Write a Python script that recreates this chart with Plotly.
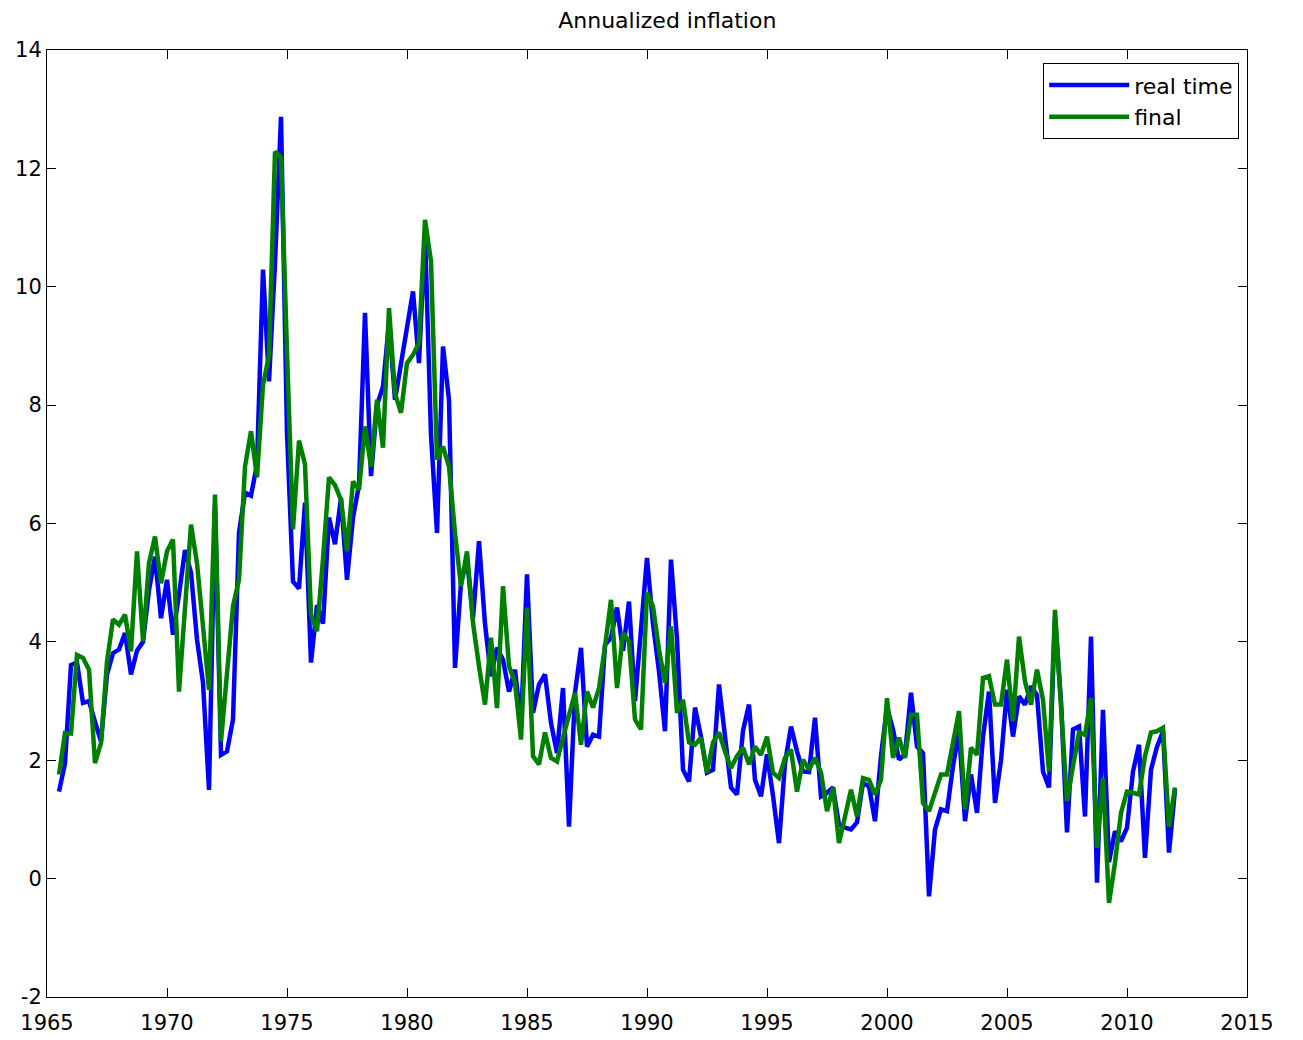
import plotly.graph_objects as go

# Quarterly observations, 1965Q3 .. 2012Q1 (decimal year of each quarter)
start_year = 1965.5
n_quarters = 187
quarters = [start_year + 0.25 * k for k in range(n_quarters)]

real_time = [
    1.47, 1.95, 3.61, 3.65, 2.97, 3.00, 2.65, 2.32, 3.45, 3.81,
    3.87, 4.15, 3.45, 3.85, 4.00, 4.88, 5.44, 4.40, 5.05, 4.12,
    4.80, 5.55, 5.17, 4.04, 3.31, 1.50, 6.30, 2.09, 2.15, 2.69,
    5.84, 6.52, 6.47, 7.00, 10.29, 8.40, 10.40, 12.87, 7.53, 5.02,
    4.90, 6.35, 3.65, 4.62, 4.31, 6.10, 5.65, 6.43, 5.05, 6.10,
    6.65, 9.56, 6.80, 8.00, 8.31, 9.40, 8.09, 8.70, 9.30, 9.92,
    8.71, 10.90, 7.50, 5.84, 8.99, 8.09, 3.56, 5.00, 5.40, 4.40,
    5.70, 4.30, 3.42, 3.90, 3.70, 3.16, 3.53, 2.60, 5.14, 2.80,
    3.28, 3.45, 2.63, 2.12, 3.22, 0.88, 3.14, 3.90, 2.23, 2.43,
    2.40, 3.95, 4.07, 4.58, 3.85, 4.68, 3.00, 4.20, 5.42, 4.30,
    3.50, 2.49, 5.39, 4.04, 1.84, 1.64, 2.89, 2.40, 1.79, 1.84,
    3.28, 2.40, 1.54, 1.42, 2.50, 2.94, 1.67, 1.39, 2.10, 1.40,
    0.60, 1.95, 2.57, 2.15, 1.81, 1.80, 2.72, 1.39, 1.45, 1.54,
    0.91, 0.86, 0.83, 0.95, 1.62, 1.56, 0.97, 2.07, 2.90, 2.52,
    2.01, 2.10, 3.14, 2.23, 2.12, -0.30, 0.83, 1.17, 1.14, 1.90,
    2.50, 0.97, 1.76, 1.11, 2.40, 3.16, 1.28, 2.00, 3.19, 2.40,
    3.08, 2.94, 3.25, 3.10, 1.81, 1.54, 4.40, 3.00, 0.78, 2.52,
    2.57, 1.05, 4.09, -0.07, 2.85, 0.28, 0.80, 0.63, 0.86, 1.81,
    2.26, 0.35, 1.84, 2.23, 2.49, 0.44, 1.50,
]

final = [
    1.76, 2.46, 2.45, 3.78, 3.73, 3.53, 1.95, 2.29, 3.67, 4.38,
    4.29, 4.46, 3.84, 5.53, 4.01, 5.33, 5.78, 4.99, 5.53, 5.73,
    3.16, 4.70, 5.98, 5.33, 4.26, 3.19, 6.49, 2.32, 3.47, 4.60,
    5.05, 6.96, 7.56, 6.78, 8.34, 8.84, 12.28, 12.19, 8.90, 5.90,
    7.40, 7.00, 4.46, 4.18, 5.40, 6.78, 6.65, 6.40, 5.53, 6.71,
    6.57, 7.64, 6.96, 8.09, 7.28, 9.64, 8.20, 7.87, 8.71, 8.85,
    9.05, 11.13, 10.43, 7.08, 7.30, 6.96, 5.84, 4.94, 5.53, 4.32,
    3.59, 2.94, 4.07, 2.88, 4.94, 3.59, 3.31, 2.35, 4.58, 2.07,
    1.93, 2.47, 2.04, 1.98, 2.38, 2.74, 3.14, 2.26, 3.16, 2.89,
    3.22, 3.92, 4.71, 3.22, 4.15, 4.01, 2.69, 2.52, 4.83, 4.60,
    3.87, 3.31, 4.26, 2.80, 3.02, 2.30, 2.26, 2.38, 1.79, 2.30,
    2.47, 2.15, 1.87, 2.07, 2.21, 1.93, 2.23, 2.09, 2.40, 1.79,
    1.70, 2.04, 2.18, 1.47, 2.01, 1.84, 2.04, 1.79, 1.14, 1.54,
    0.60, 1.05, 1.50, 1.05, 1.70, 1.67, 1.42, 1.67, 3.05, 2.04,
    2.38, 2.04, 2.77, 2.77, 1.28, 1.14, 1.45, 1.76, 1.76, 2.35,
    2.83, 1.17, 2.21, 2.09, 3.39, 3.42, 2.94, 2.94, 3.70, 2.66,
    4.09, 3.33, 2.94, 3.53, 3.02, 1.81, 4.54, 2.91, 1.31, 1.90,
    2.47, 2.43, 3.05, 0.52, 1.70, -0.41, 0.27, 1.11, 1.47, 1.45,
    1.42, 2.07, 2.47, 2.49, 2.55, 0.88, 1.54,
]

x_ticks = [1965, 1970, 1975, 1980, 1985, 1990, 1995, 2000, 2005, 2010, 2015]
y_ticks = [-2, 0, 2, 4, 6, 8, 10, 12, 14]

FONT = "DejaVu Sans"

fig = go.Figure()
fig.add_trace(go.Scatter(x=quarters, y=real_time, mode="lines", name="real time",
                         line=dict(color="#0000FF", width=4.5)))
fig.add_trace(go.Scatter(x=quarters, y=final, mode="lines", name="final",
                         line=dict(color="#008000", width=4.5)))

axis_common = dict(
    showline=True, linecolor="black", linewidth=1, mirror="ticks",
    ticks="inside", ticklen=9, tickcolor="black", tickwidth=1,
    showgrid=False, zeroline=False, automargin=False,
    tickfont=dict(family=FONT, size=21, color="black"),
)

fig.update_xaxes(range=[1965, 2015], tickvals=x_ticks,
                 ticktext=[str(v) for v in x_ticks], ticklabelstandoff=7,
                 **axis_common)
fig.update_yaxes(range=[-2, 14], tickvals=y_ticks,
                 ticktext=[str(v) for v in y_ticks], **axis_common)

fig.update_layout(
    width=1303, height=1040,
    margin=dict(l=39, r=64, t=42, b=51),
    paper_bgcolor="white", plot_bgcolor="white",
    title=dict(text="Annualized inflation", x=0.506, xanchor="center",
               y=0.988, yanchor="middle",
               font=dict(family=FONT, size=22, color="black")),
    legend=dict(x=0.9935, y=0.986, xanchor="right", yanchor="top",
                bordercolor="black", borderwidth=1, bgcolor="white",
                font=dict(family=FONT, size=22, color="black"),
                itemwidth=80, tracegroupgap=0),
    showlegend=True,
)

fig.write_html("out.html")
